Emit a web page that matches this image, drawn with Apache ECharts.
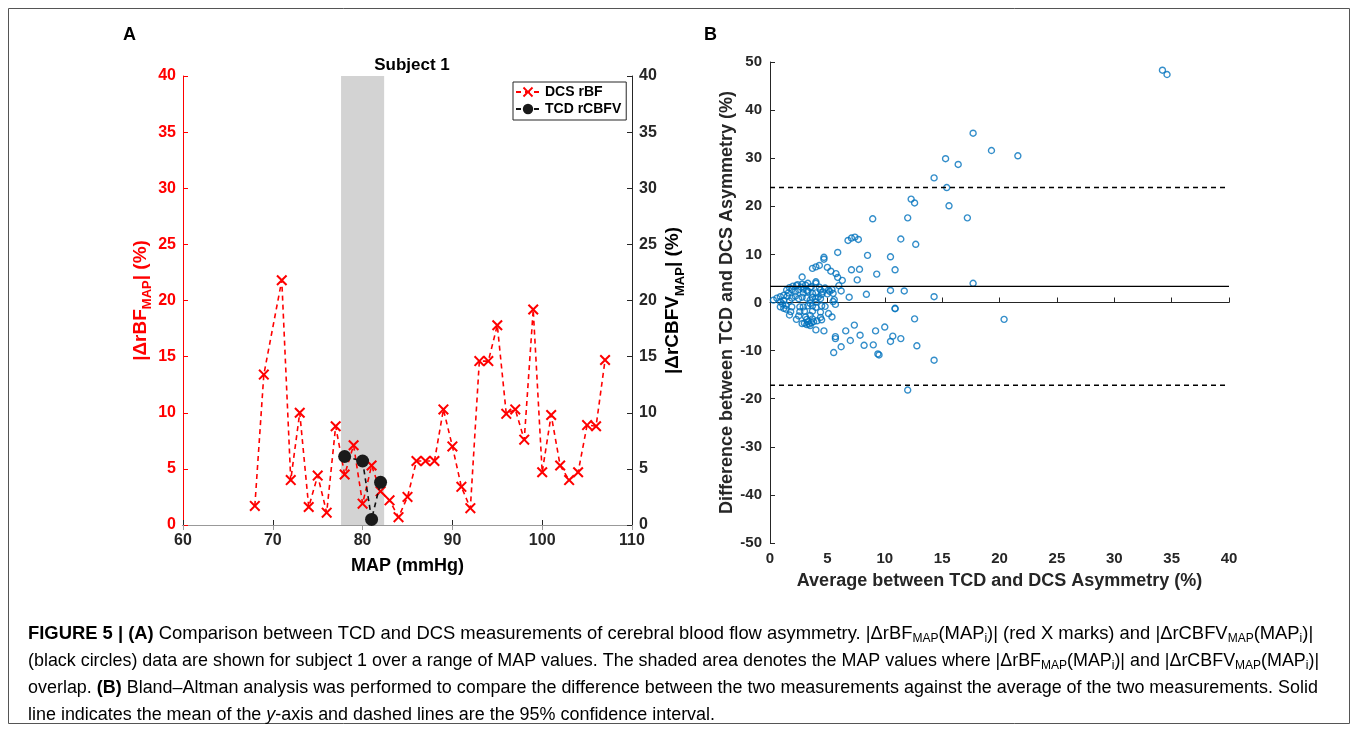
<!DOCTYPE html>
<html><head><meta charset="utf-8">
<script src="https://cdn.jsdelivr.net/npm/echarts@6/dist/echarts.min.js"></script>
<style>html,body{margin:0;padding:0;background:#fff}#c{width:1358px;height:732px}</style>
</head><body><div id="c"></div><script>
// ---- Panel A data ----
const mapA = [68,69,71,72,73,74,75,76,77,78,79,80,81,82,83,84,85,86,87,88,89,90,91,92,93,94,95,96,97,98,99,100,101,102,103,104,105,106,107];
const dcsRBF = [1.7,13.4,21.8,4.0,10.0,1.6,4.4,1.1,8.8,4.5,7.1,1.9,5.3,3.0,2.2,0.7,2.5,5.7,5.7,5.7,10.3,7.0,3.4,1.5,14.6,14.6,17.8,9.9,10.3,7.6,19.2,4.7,9.8,5.3,4.0,4.7,8.9,8.8,14.7];
const tcdMap = [78,80,81,82];
const tcdRCBFV = [6.1,5.7,0.5,3.8];
const overlapRange = [77.6,82.4];
const xTicksA = [60,110,10];
const yTicksA = [0,40,5];
// ---- Panel B data ----
const avgB = [34.2,34.6,17.7,19.3,21.6,15.3,16.4,14.3,15.4,12.3,12.6,15.6,17.2,12.0,8.95,11.4,12.7,6.8,7.1,7.4,7.7,5.9,8.5,10.5,4.7,4.7,3.7,4.0,4.3,5.0,5.3,5.75,5.9,6.3,6.0,6.2,7.1,7.8,7.6,9.3,10.9,17.7,10.5,11.7,8.4,6.9,14.3,10.9,2.8,4.0,4.0,2.8,2.3,3.3,3.6,
1.45,1.9,2.5,3.2,2.9,4.4,4.6,5.1,5.4,5.5,1.7,2.0,2.4,2.7,3.1,3.5,4.3,4.8,5.2,2.9,3.7,4.5,5.0,1.2,1.6,2.2,3.3,4.0,
0.6,0.9,1.2,0.9,1.5,1.9,2.2,2.5,2.8,3.2,3.7,4.0,4.2,4.4,4.0,5.5,5.6,3.5,1.7,0.3,
0.9,1.4,1.9,2.6,3.3,3.7,4.0,4.5,4.8,5.7,2.9,3.5,1.1,
1.4,1.8,2.6,3.0,3.7,4.4,1.2,
1.7,2.5,3.1,3.5,5.1,4.4,2.3,3.7,3.2,
3.0,3.2,3.4,3.6,3.8,3.3,2.8,3.5,4.1,4.5,5.4,
4.0,4.7,5.7,5.7,6.6,7.35,7.0,7.85,6.2,5.55,8.2,9.2,10.0,9.0,9.4,9.5,10.5,10.7,11.4,10.9,12.6,12.8,14.3,20.4,12.0];
const diffB = [48.3,47.4,35.2,31.6,30.5,29.9,28.7,25.9,23.9,21.5,20.7,20.1,17.6,17.6,17.4,13.2,12.1,12.9,13.4,13.6,13.1,10.4,9.8,9.5,9.4,9.0,7.1,7.4,7.7,7.3,6.5,6.0,5.2,4.6,3.5,2.4,6.8,6.9,4.7,5.9,6.8,4.0,2.5,2.4,1.7,1.1,1.2,-1.2,5.3,4.3,4.0,3.8,3.5,4.0,3.3,
2.6,2.7,2.7,2.5,2.8,2.6,2.2,2.6,2.7,1.9,3.1,3.4,3.7,3.2,3.6,3.1,3.2,3.0,2.3,2.0,1.9,1.7,1.8,1.5,2.0,2.2,2.3,2.0,
0.9,1.2,0.4,0.2,1.3,0.9,1.3,0.8,1.1,0.9,1.1,0.8,1.1,0.8,0.1,0.2,0.6,0.5,0.3,0.5,
-0.9,-0.6,-0.9,-0.9,-0.7,-0.7,-1.0,-0.7,-0.8,-0.4,-0.9,-0.2,-0.3,
-1.4,-1.9,-1.9,-1.8,-1.8,-2.0,-1.2,
-2.6,-2.8,-3.0,-2.7,-2.3,-3.1,-3.5,-3.4,-3.5,
-4.3,-4.6,-4.5,-4.2,-4.0,-4.0,-4.4,-4.8,-3.8,-3.6,-3.0,
-5.7,-5.9,-7.1,-7.5,-5.9,-4.7,-7.9,-6.8,-9.2,-10.4,-8.9,-5.9,-5.1,-8.8,-10.7,-10.9,-8.1,-7.0,-7.5,-1.3,-3.4,-9.0,-12.0,-3.5,-18.2];
const meanDiff = 3.35, upperLoA = 23.9, lowerLoA = -17.2;
const xTicksB = [0,40,5];
const yTicksB = [-50,50,10];

const F = '"Liberation Sans", Arial, Helvetica, sans-serif';
const dark = '#262626';

const chart = echarts.init(document.getElementById('c'), null, {renderer:'canvas'});

function lbl(color, size){ return {color:color, fontFamily:F, fontWeight:'bold', fontSize:size}; }

function capRich(cs){
  return {
    n:{fontFamily:F, fontSize:cs, color:'#231f20', lineHeight:22},
    b:{fontFamily:F, fontSize:cs, fontWeight:'bold', color:'#231f20', lineHeight:22},
    s:{fontFamily:F, fontSize:12, color:'#231f20', lineHeight:22, verticalAlign:'bottom'},
    i:{fontFamily:F, fontSize:cs, fontStyle:'italic', color:'#231f20', lineHeight:22}
  };
}
const capLines = [
  '{b|FIGURE 5 | (A)}{n| Comparison between TCD and DCS measurements of cerebral blood flow asymmetry. |ΔrBF}{s|MAP}{n|(MAP}{s|i}{n|)| (red X marks) and |ΔrCBFV}{s|MAP}{n|(MAP}{s|i}{n|)|}',
  '{n|(black circles) data are shown for subject 1 over a range of MAP values. The shaded area denotes the MAP values where |ΔrBF}{s|MAP}{n|(MAP}{s|i}{n|)| and |ΔrCBFV}{s|MAP}{n|(MAP}{s|i}{n|)|}',
  '{n|overlap. }{b|(B)}{n| Bland–Altman analysis was performed to compare the difference between the two measurements against the average of the two measurements. Solid}',
  '{n|line indicates the mean of the }{i|y}{n|-axis and dashed lines are the 95% confidence interval.}'
];
const capY = [636, 663, 690, 717];
const capSize = [18.4, 17.9, 17.95, 17.95];

const option = {
  animation:false,
  backgroundColor:'#fff',
  title:{text:'Subject 1', left:407, top:52, textAlign:'center', textStyle:{fontFamily:F, fontWeight:'bold', fontSize:17, color:'#000'}},
  legend:{
    data:['DCS rBF','TCD rCBFV'], orient:'vertical', left:513, top:82,
    backgroundColor:'#fff', borderColor:dark, borderWidth:1, borderRadius:0,
    padding:[3,5,4,2], itemGap:3, itemWidth:24, itemHeight:13,
    textStyle:{fontFamily:F, fontWeight:'bold', fontSize:14, color:'#000'}
  },
  grid:[
    {left:183, top:76, width:449, height:449, show:false},
    {left:770, top:62, width:459, height:481, show:false}
  ],
  xAxis:[
    {gridIndex:0, type:'value', min:xTicksA[0], max:xTicksA[1], interval:xTicksA[2], position:'bottom',
     axisLine:{lineStyle:{color:dark, width:1}}, axisTick:{inside:true, length:5, lineStyle:{color:dark}},
     axisLabel:Object.assign(lbl(dark,16),{margin:8}), splitLine:{show:false},
     name:'MAP (mmHg)', nameLocation:'middle', nameGap:32, nameTextStyle:lbl('#000',18)},
    {gridIndex:0, type:'value', min:xTicksA[0], max:xTicksA[1], interval:xTicksA[2], position:'top',
     axisLine:{lineStyle:{color:'#999', width:1}}, axisTick:{inside:true, length:5, lineStyle:{color:'#999'}},
     axisLabel:{show:false}, splitLine:{show:false}},
    {gridIndex:1, type:'value', min:xTicksB[0], max:xTicksB[1], interval:xTicksB[2], position:'bottom',
     axisLine:{lineStyle:{color:dark, width:1}}, axisTick:{inside:true, length:5, lineStyle:{color:dark}},
     axisLabel:Object.assign(lbl(dark,15),{margin:8}), splitLine:{show:false},
     name:'Average between TCD and DCS Asymmetry (%)', nameLocation:'middle', nameGap:29, nameTextStyle:lbl(dark,18)}
  ],
  yAxis:[
    {gridIndex:0, type:'value', min:yTicksA[0], max:yTicksA[1], interval:yTicksA[2], position:'left',
     axisLine:{show:true, lineStyle:{color:'#ff0000', width:1}}, axisTick:{show:true, inside:true, length:5, lineStyle:{color:'#ff0000'}},
     axisLabel:Object.assign(lbl('#ff0000',16),{margin:7}), splitLine:{show:false},
     name:'{a||ΔrBF}{s|MAP}{a|| (%)}', nameLocation:'middle', nameRotate:90, nameGap:22,
     nameTextStyle:{rich:{a:{fontFamily:F, fontWeight:'bold', fontSize:19, color:'#ff0000', lineHeight:28, verticalAlign:'middle'},
                          s:{fontFamily:F, fontWeight:'bold', fontSize:13, color:'#ff0000', lineHeight:28, verticalAlign:'bottom'}}}},
    {gridIndex:0, type:'value', min:yTicksA[0], max:yTicksA[1], interval:yTicksA[2], position:'right',
     axisLine:{show:true, lineStyle:{color:dark, width:1}}, axisTick:{show:true, inside:true, length:5, lineStyle:{color:dark}},
     axisLabel:Object.assign(lbl(dark,16),{margin:7}), splitLine:{show:false},
     name:'{a||ΔrCBFV}{s|MAP}{a|| (%)}', nameLocation:'middle', nameRotate:90, nameGap:27,
     nameTextStyle:{rich:{a:{fontFamily:F, fontWeight:'bold', fontSize:19, color:'#000', lineHeight:28, verticalAlign:'middle'},
                          s:{fontFamily:F, fontWeight:'bold', fontSize:13, color:'#000', lineHeight:28, verticalAlign:'bottom'}}}},
    {gridIndex:1, type:'value', min:yTicksB[0], max:yTicksB[1], interval:yTicksB[2], position:'left',
     axisLine:{show:true, onZero:false, lineStyle:{color:dark, width:1}}, axisTick:{show:true, inside:true, length:5, lineStyle:{color:dark}},
     axisLabel:Object.assign(lbl(dark,15),{margin:8}), splitLine:{show:false},
     name:'Difference between TCD and DCS Asymmetry (%)', nameLocation:'middle', nameRotate:90, nameGap:28, nameTextStyle:lbl(dark,18)}
  ],
  series:[
    {name:'DCS rBF', type:'line', xAxisIndex:0, yAxisIndex:0,
     data:mapA.map((m,i)=>[m,dcsRBF[i]]),
     lineStyle:{color:'#ff0000', width:1.6, type:[5,4]},
     symbol:'path://M0,1.3L1.3,0L5,3.7L8.7,0L10,1.3L6.3,5L10,8.7L8.7,10L5,6.3L1.3,10L0,8.7L3.7,5Z',
     symbolSize:11, itemStyle:{color:'#ff0000'}, z:3,
     markArea:{silent:true, itemStyle:{color:'#d3d3d3'}, data:[[{xAxis:overlapRange[0]},{xAxis:overlapRange[1]}]]}},
    {name:'TCD rCBFV', type:'line', xAxisIndex:0, yAxisIndex:1,
     data:tcdMap.map((m,i)=>[m,tcdRCBFV[i]]),
     lineStyle:{color:'#111', width:1.6, type:[5,4]},
     symbol:'circle', symbolSize:13, itemStyle:{color:'#1a1a1a'}, z:4},
    {name:'BA', type:'scatter', xAxisIndex:2, yAxisIndex:2,
     data:avgB.map((a,i)=>[a,diffB[i]]),
     symbol:'circle', symbolSize:6,
     itemStyle:{color:'rgba(0,0,0,0)', borderColor:'#0072BD', borderWidth:1.4}},
    {name:'mean', type:'line', xAxisIndex:2, yAxisIndex:2, symbol:'none',
     data:[[xTicksB[0],meanDiff],[xTicksB[1],meanDiff]], lineStyle:{color:'#000', width:1.4}},
    {name:'upper', type:'line', xAxisIndex:2, yAxisIndex:2, symbol:'none',
     data:[[xTicksB[0],upperLoA],[xTicksB[1],upperLoA]], lineStyle:{color:'#000', width:1.4, type:[5,4]}},
    {name:'lower', type:'line', xAxisIndex:2, yAxisIndex:2, symbol:'none',
     data:[[xTicksB[0],lowerLoA],[xTicksB[1],lowerLoA]], lineStyle:{color:'#000', width:1.4, type:[5,4]}}
  ],
  graphic:[
    {type:'rect', shape:{x:8.5, y:8.5, width:1341, height:715}, style:{fill:'none', stroke:'#555', lineWidth:1}, silent:true},
    {type:'text', left:123, top:26, style:{text:'A', fontFamily:F, fontWeight:'bold', fontSize:18, fill:'#000'}},
    {type:'text', left:704, top:26, style:{text:'B', fontFamily:F, fontWeight:'bold', fontSize:18, fill:'#000'}}
  ].concat(capLines.map((t,i)=>({type:'text', left:28, top:capY[i]-11, style:{text:t, rich:capRich(capSize[i])}})))
};
chart.setOption(option);
</script></body></html>
